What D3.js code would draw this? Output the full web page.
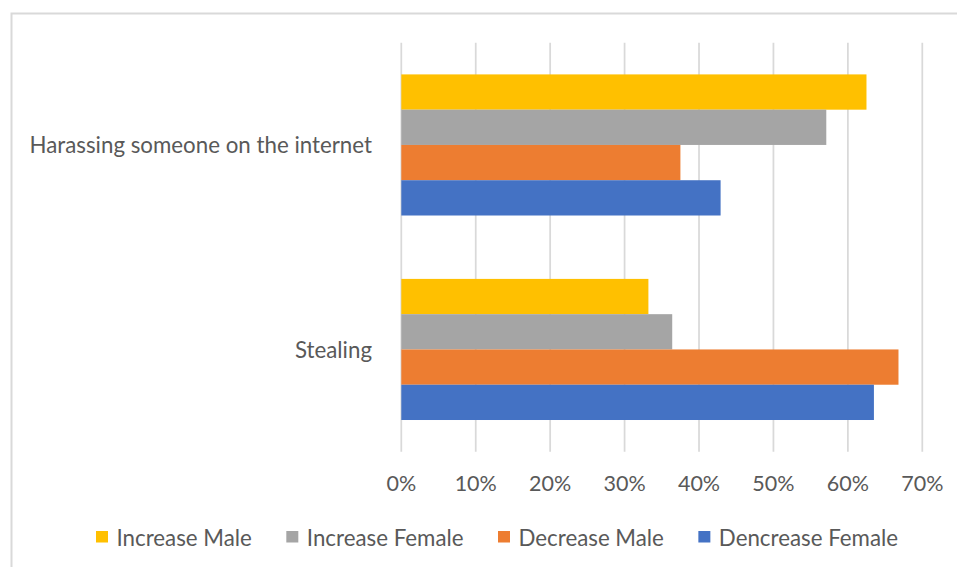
<!DOCTYPE html>
<html>
<head>
<meta charset="utf-8">
<script src="https://cdn.jsdelivr.net/npm/d3@7"></script>
<style>
  body { margin: 0; background: #fff; }
  svg { display: block; }
  text { font-family: Lato, "Open Sans", sans-serif; fill: #595959; }
</style>
</head>
<body>
<svg width="957" height="567"></svg>
<script>
// data
const categories = ['Harassing someone on the internet', 'Stealing'];
const seriesNames = ['Increase Male', 'Increase Female', 'Decrease Male', 'Dencrease Female'];
const seriesColors = ['#ffc000', '#a5a5a5', '#ed7d31', '#4472c4'];
const increaseMale = [0.625, 0.332];
const increaseFemale = [0.571, 0.364];
const decreaseMale = [0.375, 0.668];
const decreaseFemale = [0.429, 0.635];
const xTicks = [0, 0.1, 0.2, 0.3, 0.4, 0.5, 0.6, 0.7];

const seriesValues = [increaseMale, increaseFemale, decreaseMale, decreaseFemale];

const svg = d3.select('svg');

// chart border (runs off right / bottom edge like the screenshot)
svg.append('rect')
  .attr('x', 11.5).attr('y', 13.5)
  .attr('width', 1000).attr('height', 600)
  .attr('fill', 'none')
  .attr('stroke', '#d9d9d9')
  .attr('stroke-width', 2);

const x = d3.scaleLinear().domain([0, 0.7]).range([401.3, 922.3]);
const y = d3.scaleBand().domain(categories).range([42.7, 451.7])
  .paddingInner(0.31).paddingOuter(0.155);
const ySub = d3.scaleBand().domain(seriesNames).range([0, y.bandwidth()]);

// gridlines
svg.append('g')
  .selectAll('line')
  .data(xTicks)
  .join('line')
  .attr('x1', d => x(d)).attr('x2', d => x(d))
  .attr('y1', 42.7).attr('y2', 451.7)
  .attr('stroke', '#d9d9d9')
  .attr('stroke-width', 1.75);

// x tick labels
svg.append('g')
  .selectAll('text')
  .data(xTicks)
  .join('text')
  .attr('x', d => x(d))
  .attr('y', 483)
  .attr('text-anchor', 'middle')
  .attr('dominant-baseline', 'central')
  .style('font-size', '21.5px')
  .text(d => d3.format('.0%')(d));

// category labels
svg.append('g')
  .selectAll('text')
  .data(categories)
  .join('text')
  .attr('x', 372)
  .attr('y', d => y(d) + y.bandwidth() / 2)
  .attr('text-anchor', 'end')
  .attr('dominant-baseline', 'central')
  .style('font-size', '22.3px')
  .text(d => d);

// bars
seriesNames.forEach((name, i) => {
  svg.append('g')
    .selectAll('rect')
    .data(seriesValues[i].map((v, j) => ({cat: categories[j], v: v})))
    .join('rect')
    .attr('x', x(0))
    .attr('y', d => y(d.cat) + ySub(name))
    .attr('width', d => x(d.v) - x(0))
    .attr('height', ySub.bandwidth())
    .attr('fill', seriesColors[i]);
});

// legend
const legend = svg.append('g');
let items = legend.selectAll('g')
  .data(seriesNames)
  .join('g');
items.append('rect')
  .attr('x', 0).attr('y', 531)
  .attr('width', 12).attr('height', 11.5)
  .attr('fill', (d, i) => seriesColors[i]);
items.append('text')
  .attr('x', 20.5)
  .attr('y', 537)
  .attr('dominant-baseline', 'central')
  .style('font-size', '22.3px')
  .text(d => d);

let pos = 96;
items.each(function() {
  const g = d3.select(this);
  g.attr('transform', `translate(${pos},0)`);
  const w = g.select('text').node().getComputedTextLength();
  pos += 20.5 + w + 34.5;
});
</script>
</body>
</html>
